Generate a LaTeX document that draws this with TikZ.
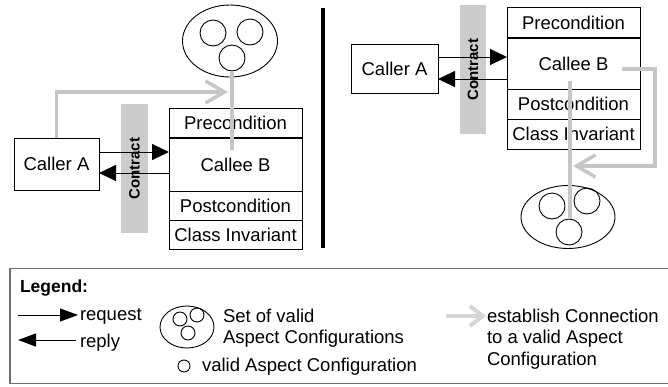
\documentclass[tikz,border=0pt]{standalone}
\usepackage{fontspec}
\setmainfont{Liberation Sans}
\usetikzlibrary{arrows.meta,shapes.geometric}
\definecolor{linkgray}{HTML}{C6C6C6}
\definecolor{legendgray}{HTML}{D6D6D6}
\definecolor{bargray}{HTML}{CCCCCC}
\definecolor{framegray}{HTML}{6E6E6E}
\begin{document}
\begin{tikzpicture}[x=1pt,y=-1pt,
  every node/.style={font=\fontsize{18.5}{21}\selectfont, inner sep=0pt, outer sep=0pt},
  cbox/.style={draw, line width=0.9pt, minimum width=133pt},
  callerbox/.style={draw, line width=0.9pt},
  bar/.style={fill=bargray, rotate=90, font=\fontsize{15}{15}\selectfont\bfseries},
  setell/.style={ellipse, draw, line width=0.9pt},
  cfg/.style={circle, draw, line width=0.9pt},
  req/.style={line width=0.9pt, -{Triangle[length=17pt,width=16pt]}},
  lreq/.style={line width=0.9pt, -{Triangle[length=18pt,width=13pt]}},
  glink/.style={linkgray, line width=3.5pt},
  garrow/.style={linkgray, line width=3.5pt, -{Straight Barb[length=19pt,width=22pt]}},
  lgarrow/.style={legendgray, line width=4pt, -{Straight Barb[length=13pt,width=20pt]}},
  lbl/.style={anchor=base west}
]
\useasboundingbox (0,0) rectangle (668,386);

% ---------- left part ----------
\node[setell, minimum width=95pt, minimum height=72pt] (setL) at (230,41) {};
\node[cfg, minimum size=26pt] (cL1) at (213,33) {};
\node[cfg, minimum size=26pt] (cL2) at (250,32) {};
\node[cfg, minimum size=26pt] (cL3) at (232,58) {};

\node[bar, minimum width=129pt, minimum height=27pt] (ctL) at (134.5,168.5) {Contract};

\node[cbox, minimum height=30pt] (preL) at (235.5,123) {Precondition};
\node[cbox, minimum height=53pt] (calL) at (235.5,164.5) {Callee B};
\node[cbox, minimum height=29pt] (postL) at (235.5,205.5) {Postcondition};
\node[cbox, minimum height=29pt] (invL) at (235.5,234.5) {Class Invariant};
\draw[line width=1.8pt] (preL.south west) -- (preL.south east);

\node[callerbox, minimum width=85pt, minimum height=52pt] (caL) at (56.5,164) {Caller A};

\draw[req] ([yshift=12pt]caL.east) -- ([yshift=12pt]caL.east -| calL.west);
\draw[req] ([yshift=-9pt]caL.east -| calL.west) -- ([yshift=-9pt]caL.east);

\coordinate (gEndL) at (232,150);
\coordinate (gTipL) at (228,92);
\draw[glink] (cL3.south) -- (gEndL);
\draw[garrow] (caL.north) |- (gTipL);

% ---------- divider ----------
\coordinate (divT) at (323,8);
\coordinate (divB) at (323,248);
\draw[line width=3.5pt] (divT) -- (divB);

% ---------- right part ----------
\node[bar, minimum width=129pt, minimum height=26pt] (ctR) at (473,69.5) {Contract};

\node[cbox, minimum height=31pt] (preR) at (573.5,22.5) {Precondition};
\node[cbox, minimum height=51pt] (calR) at (573.5,63.5) {Callee B};
\node[cbox, minimum height=30pt] (postR) at (573.5,104) {Postcondition};
\node[cbox, minimum height=30pt] (invR) at (573.5,134) {Class Invariant};
\draw[line width=1.6pt] (preR.south west) -- (preR.south east);

\node[callerbox, minimum width=87pt, minimum height=49pt] (caR) at (394.5,68.5) {Caller A};

\draw[req] ([yshift=11.5pt]caR.east) -- ([yshift=11.5pt]caR.east -| calR.west);
\draw[req] ([yshift=-10.5pt]caR.east -| calR.west) -- ([yshift=-10.5pt]caR.east);

\node[setell, minimum width=94pt, minimum height=63pt] (setR) at (568,217) {};
\node[cfg, minimum size=26pt] (cR1) at (552,206) {};
\node[cfg, minimum size=26pt] (cR2) at (587,201) {};
\node[cfg, minimum size=26pt] (cR3) at (569,232) {};

\coordinate (gStartR) at (622,69);
\coordinate (gCornR) at (655,166);
\coordinate (gTipR) at (573,166);
\coordinate (gTopR) at (570,81);
\draw[garrow] (gStartR) -| (gCornR) -- (gTipR);
\draw[glink] (gTopR) -- (gTopR |- cR3.north);

% ---------- legend ----------
\coordinate (frA) at (668,268.5);
\coordinate (frB) at (10,268.5);
\coordinate (frC) at (10,383.5);
\coordinate (frD) at (668,383.5);
\draw[framegray, line width=1.4pt] (frA) -- (frB) -- (frC) -- (frD);

\node[lbl, font=\fontsize{17.5}{21}\selectfont\bfseries] (lgT) at (20,292) {Legend:};

\coordinate (rqS) at (18,315);
\node[lbl] (rqT) at (80,320) {request};
\draw[lreq] (rqS) -- ([xshift=-2pt]rqT.west |- rqS);

\coordinate (rpE) at (18,340);
\node[lbl] (rpT) at (80,347) {reply};
\draw[lreq] ([xshift=-4pt]rpT.west |- rpE) -- (rpE);

\node[setell, minimum width=54pt, minimum height=42pt] (lgSet) at (187,327) {};
\node[cfg, minimum size=14pt] (lgC1) at (180,319) {};
\node[cfg, minimum size=14pt] (lgC2) at (197,315) {};
\node[cfg, minimum size=14pt] (lgC3) at (188,333) {};
\node[lbl] (lgS1) at (223,322) {Set of valid};
\node[lbl] (lgS2) at (223,343) {Aspect Configurations};

\node[cfg, minimum size=12pt] (lgOne) at (184,366) {};
\node[lbl] (lgOneT) at (202,371) {valid Aspect Configuration};

\coordinate (lgA) at (446,316);
\node[lbl] (lgE1) at (487,322) {establish Connection};
\node[lbl] (lgE2) at (487,343) {to a valid Aspect};
\node[lbl] (lgE3) at (487,365) {Configuration};
\draw[lgarrow] (lgA) -- ([xshift=-1pt]lgE1.west |- lgA);
\end{tikzpicture}
\end{document}
